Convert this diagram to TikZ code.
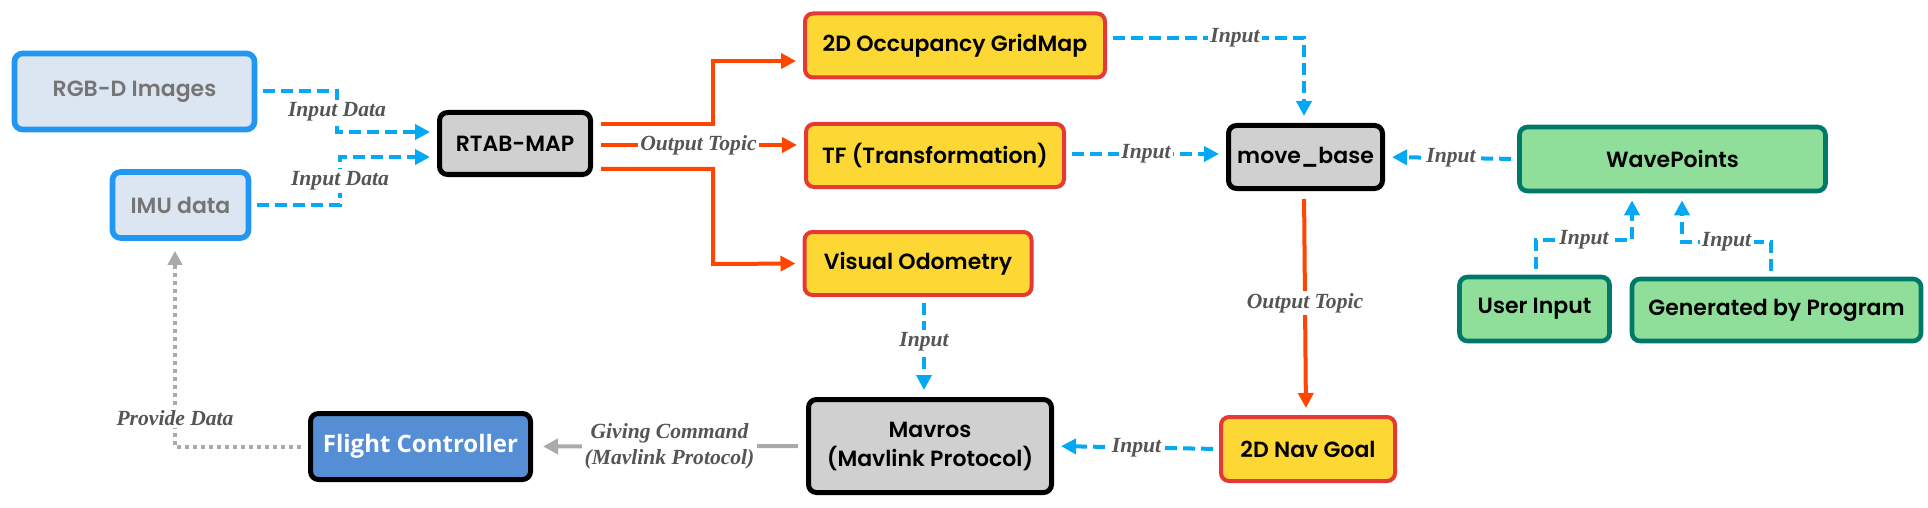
\documentclass[tikz,border=0pt]{standalone}
\usepackage{fontspec}
\setmainfont{Poppins}[BoldFont={Poppins SemiBold}]
\newfontfamily\fcfont{Open Sans}
\newfontfamily\lblfont{Liberation Serif}
\usetikzlibrary{arrows.meta}
\definecolor{srcblue}{HTML}{2196F3}
\definecolor{srcfill}{HTML}{DCE6F2}
\definecolor{srctext}{HTML}{757575}
\definecolor{procfill}{HTML}{D0D0D0}
\definecolor{topicfill}{HTML}{FDD835}
\definecolor{topicred}{HTML}{E53935}
\definecolor{wpfill}{HTML}{8FDE9A}
\definecolor{wpline}{HTML}{00796B}
\definecolor{fcfill}{HTML}{558ED5}
\definecolor{inblue}{HTML}{03A9F4}
\definecolor{outred}{HTML}{FF4500}
\definecolor{cmdgray}{HTML}{AAAAAA}
\definecolor{lblgray}{HTML}{555555}
\tikzset{
  box/.style={rounded corners=4pt,inner sep=0pt,align=center,
    font=\fontsize{11}{14.5}\selectfont\bfseries},
  srcbox/.style={box,draw=srcblue,fill=srcfill,line width=2.8pt,text=srctext},
  procbox/.style={box,draw=black,fill=procfill,line width=2.5pt},
  topicbox/.style={box,draw=topicred,fill=topicfill,line width=2pt},
  wpbox/.style={box,draw=wpline,fill=wpfill,line width=2.3pt},
  fcbox/.style={box,draw=black,fill=fcfill,line width=2.5pt,text=white,
    font=\fcfont\fontsize{12}{14}\selectfont\bfseries},
  inedge/.style={draw=inblue,line width=2pt,dash pattern=on 6pt off 3pt,
    -{Triangle[length=7.5pt,width=7.5pt]},shorten <=3pt,shorten >=3.5pt},
  outedge/.style={draw=outred,line width=2pt,
    -{Triangle[length=7.5pt,width=7.5pt]},shorten <=4pt,shorten >=3.5pt},
  cmdedge/.style={draw=cmdgray,line width=2pt,
    -{Triangle[length=7.5pt,width=7.5pt]},shorten <=4pt,shorten >=5pt},
  dataedge/.style={draw=cmdgray,line width=2pt,dash pattern=on 2pt off 2pt,
    -{Triangle[length=7pt,width=7pt]},shorten <=3.5pt,shorten >=5pt},
  lbl/.style={fill=white,inner sep=1.2pt,text=lblgray,
    font=\lblfont\fontsize{10.8}{12}\selectfont\bfseries\itshape}
}
\begin{document}
\begin{tikzpicture}[x=0.5pt,y=-0.5pt]
\useasboundingbox (0,0) rectangle (1928,508);
\node[srcbox,minimum width=120pt,minimum height=38pt] (rgbd) at (134.5,91.5) {RGB-D Images};
\node[srcbox,minimum width=68pt,minimum height=33pt] (imu) at (180.5,205) {IMU data};
\node[procbox,minimum width=75.5pt,minimum height=31pt] (rtab) at (515,143.5) {RTAB-MAP};
\node[topicbox,minimum width=150pt,minimum height=32pt] (gridmap) at (955,45.5) {2D Occupancy GridMap};
\node[topicbox,minimum width=129pt,minimum height=31.5pt] (tf) at (935,155.5) {TF (Transformation)};
\node[topicbox,minimum width=113.5pt,minimum height=31.5pt] (vodom) at (918,263.5) {Visual Odometry};
\node[procbox,minimum width=77pt,minimum height=31.5pt] (movebase) at (1305.5,157) {move\_base};
\node[wpbox,minimum width=153pt,minimum height=32pt] (wavepts) at (1672.5,159) {WavePoints};
\node[wpbox,minimum width=75pt,minimum height=32pt] (userin) at (1534.5,309) {User Input};
\node[wpbox,minimum width=144.5pt,minimum height=31pt] (genprog) at (1776.5,310) {Generated by Program};
\node[fcbox,minimum width=110pt,minimum height=33pt] (fctrl) at (420.5,446.5) {Flight Controller};
\node[procbox,minimum width=121.5pt,minimum height=46.5pt] (mavros) at (930,446) {Mavros\\(Mavlink Protocol)};
\node[topicbox,minimum width=87pt,minimum height=32pt] (navgoal) at (1308,449) {2D Nav Goal};

\draw[inedge] (rgbd.east) -- (337,91.5) -- node[lbl]{Input Data} (337,132) -- ([yshift=5.75pt]rtab.west);
\draw[inedge] (imu.east) -- (340,205) -- node[lbl]{Input Data} (340,157) -- ([yshift=-6.75pt]rtab.west);
\draw[outedge] ([yshift=9.75pt]rtab.east) -- (713,124) -- (713,61) -- ([yshift=-7.75pt]gridmap.west);
\draw[outedge] ([yshift=-0.75pt]rtab.east) -- node[lbl]{Output Topic} ([yshift=5.25pt]tf.west);
\draw[outedge] ([yshift=-12.75pt]rtab.east) -- (713,169) -- (713,264) -- (vodom.west);
\draw[inedge] ([yshift=3.75pt]gridmap.east) -- node[lbl,pos=0.65]{Input} (1304,38) -- ([xshift=-0.75pt]movebase.north);
\draw[inedge] ([yshift=0.75pt]tf.east) -- node[lbl]{Input} ([yshift=1.5pt]movebase.west);
\draw[inedge] (wavepts.west) -- node[lbl]{Input} (movebase.east);
\draw[inedge] ([xshift=0.75pt]userin.north) -- (1536,240) -- node[lbl]{Input} (1632,240) -- (1632,0 |- wavepts.south);
\draw[inedge] ([xshift=-2.75pt]genprog.north) -- (1771,242) -- node[lbl]{Input} (1682,242) -- (1682,0 |- wavepts.south);
\draw[outedge] ([xshift=-0.75pt]movebase.south) -- node[lbl]{Output Topic} ([xshift=-1pt]navgoal.north);
\draw[inedge] ([xshift=3pt]vodom.south) -- node[lbl,pos=0.45]{Input} ([xshift=-3pt]mavros.north);
\draw[inedge] (navgoal.west) -- node[lbl]{Input} (mavros.east);
\draw[cmdedge] (mavros.west) -- node[lbl,align=center,font=\lblfont\fontsize{10.8}{13}\selectfont\bfseries\itshape]{Giving Command\\(Mavlink Protocol)} (fctrl.east);
\draw[dataedge] (fctrl.west) -| node[lbl,pos=0.57]{Provide Data} ([xshift=-2.75pt]imu.south);
\end{tikzpicture}
\end{document}
